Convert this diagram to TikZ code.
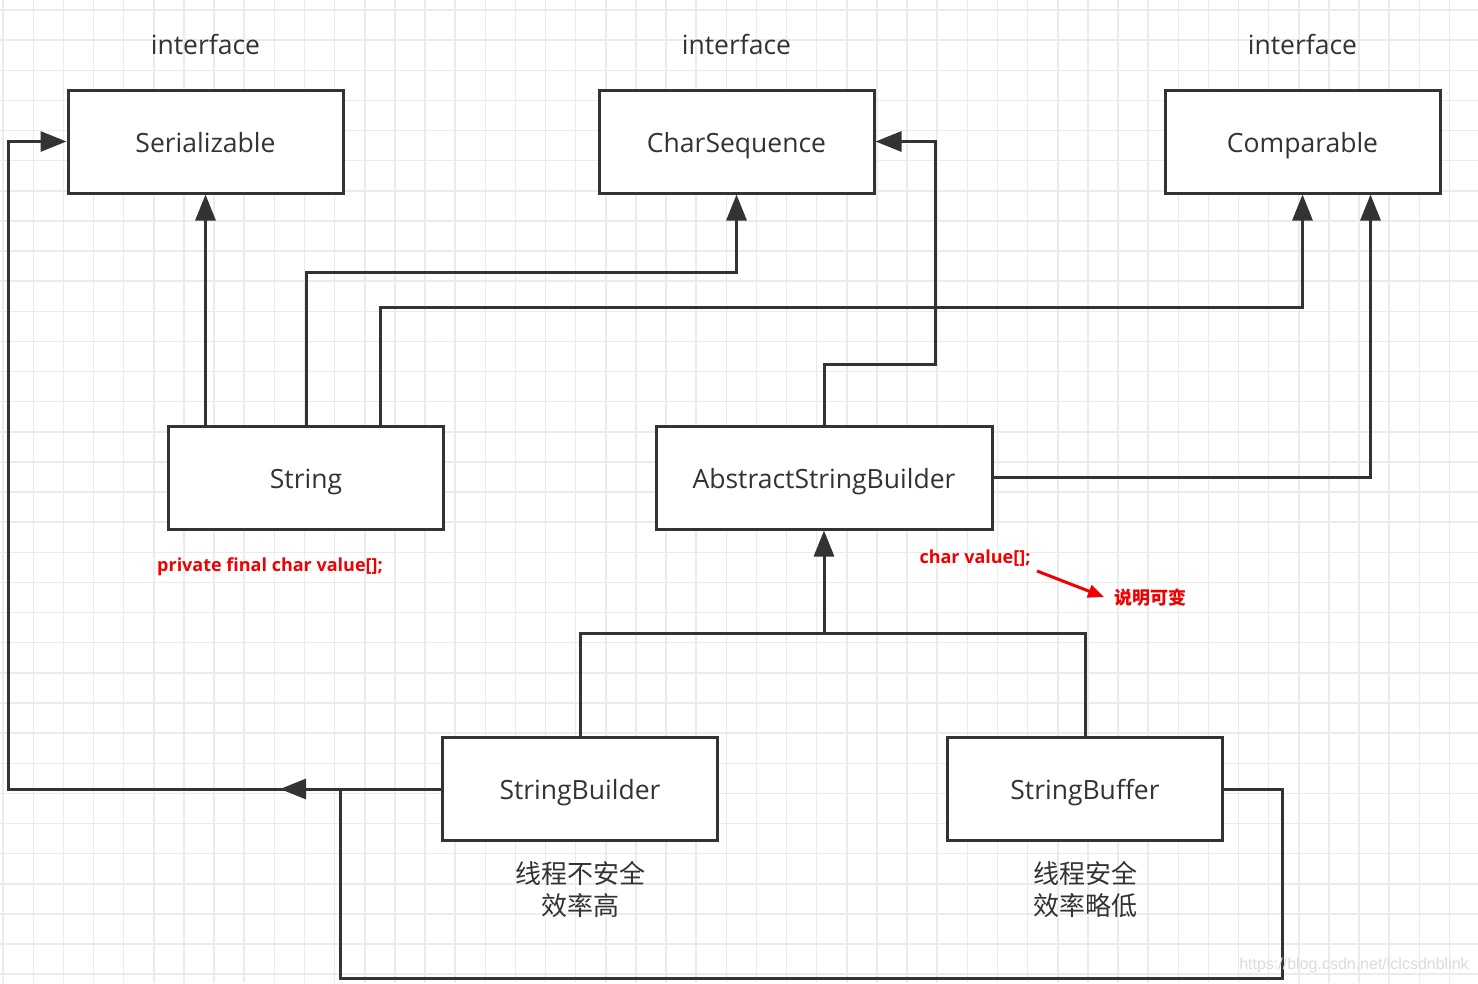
\documentclass[tikz,border=0pt]{standalone}
\usepackage{fontspec}
\setmainfont{Open Sans}
\newfontfamily\cjk{Noto Sans CJK SC}
\newfontfamily\wm{Liberation Sans}
\usetikzlibrary{arrows.meta}
\definecolor{ln}{HTML}{333333}
\definecolor{gridc}{HTML}{EBEBEB}
\definecolor{rd}{HTML}{F00000}
\begin{document}
\begin{tikzpicture}[x=1pt,y=-1pt,
  box/.style={draw=ln,line width=3pt,fill=white,minimum width=275pt,minimum height=103pt,inner sep=0pt,font=\fontsize{26.5}{30}\selectfont,text=ln,text height=21pt,text depth=0pt},
  conn/.style={draw=ln,line width=3pt},
  arr/.style={conn,-{Triangle[length=26pt,width=20pt]}},
  lbl/.style={text=ln,font=\fontsize{26.5}{30}\selectfont,inner sep=0pt},
  cn/.style={text=ln,font=\cjk\fontsize{26}{32}\selectfont,align=center,inner sep=0pt},
  red/.style={text=rd,font=\bfseries\fontsize{18}{22}\selectfont,inner sep=0pt}]
\useasboundingbox (0,0) rectangle (1478,983);
\fill[white] (0,0) rectangle (1478,983);
\foreach \i in {0,...,49} \draw[gridc,line width=1.5pt] ({3.2+30.13*\i},0) -- ({3.2+30.13*\i},983);
\foreach \j in {0,...,32} \draw[gridc,line width=1.5pt] (0,{10+30.13*\j}) -- (1478,{10+30.13*\j});

% interface labels
\node[lbl] (i1) at (205.5,44) {interface};
\node[lbl] (i2) at (736.5,44) {interface};
\node[lbl] (i3) at (1302.5,44) {interface};

% boxes
\node[box] (ser) at (205.5,141.5) {Serializable};
\node[box] (cs) at (736.5,141.5) {CharSequence};
\node[box] (cmp) at (1302.5,141.5) {Comparable};
\node[box] (str) at (306,477.5) {String};
\node[box,minimum width=336pt] (asb) at (824,477.5) {AbstractStringBuilder};
\node[box] (sbd) at (580,789) {StringBuilder};
\node[box] (sbf) at (1085,789) {StringBuffer};

% String
\draw[arr] (ser.south |- str.north) -- (ser.south);
\draw[arr] (str.north) -- ++(0,-152) -| (cs.south);
\draw[arr] ([xshift=74pt]str.north) -- ++(0,-117) -| (cmp.south);

% AbstractStringBuilder
\draw[arr] (asb.north) -- ++(0,-60) -| ([xshift=60pt]cs.east) -- (cs.east);
\draw[arr] (asb.east) -| ([xshift=68pt]cmp.south);

% StringBuilder / StringBuffer to ASB
\coordinate (mid) at (824,633);
\draw[arr] (sbd.north) |- (mid) -- (asb.south);
\draw[conn] (sbf.north) |- (mid);

% to Serializable
\coordinate (lft) at (8,789);
\coordinate (jn) at (340,789);
\coordinate (tip) at (280,789);
\draw[arr] (sbd.west) -- (lft) |- (ser.west);
\draw[arr] (jn) -- (tip);
\coordinate (bot) at (1282,978);
\draw[conn] (sbf.east) -| (bot) -| (jn);

% notes
\node[red] (n1) at (270,567) {private final char value[];};
\node[red] (n2) at (975,558) {char value[];};
\node[red,font=\cjk\bfseries\fontsize{18}{22}\selectfont] (n3) at (1150,598) {说明可变};
\coordinate (ra) at (1037,571);
\coordinate (rb) at (1104,597);
\draw[rd,line width=3pt,-{Triangle[length=16pt,width=13pt]}] (ra) -- (rb);

\node[cn] (c1) at (580,890) {线程不安全\\效率高};
\node[cn] (c2) at (1085,890) {线程安全\\效率略低};

\node[text=gridc!85!gray,font=\wm\fontsize{16}{20}\selectfont,inner sep=0pt] (wm) at (1354,965) {https://blog.csdn.net/lclcsdnblink};
\end{tikzpicture}
\end{document}
